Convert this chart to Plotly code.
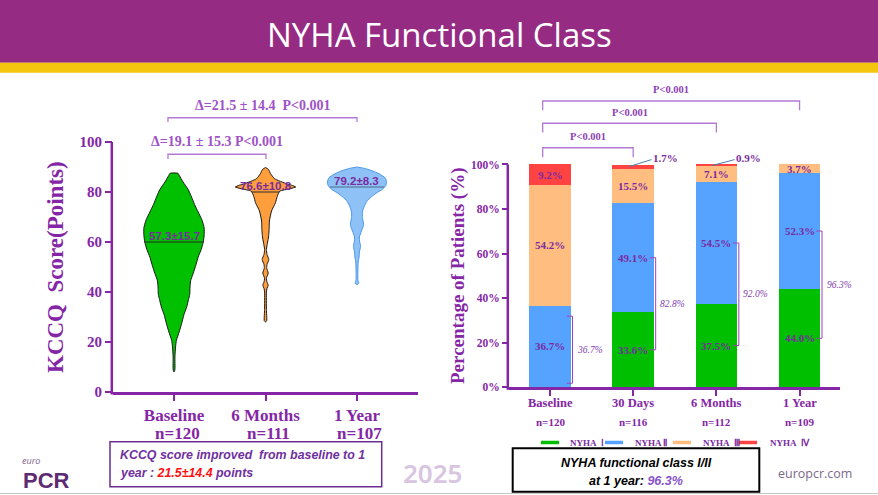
import numpy as np
import plotly.graph_objects as go

W, H = 878, 495

# ---------------- data ----------------
kccq_groups = ["Baseline", "6 Months", "1 Year"]
kccq_n = [120, 111, 107]
kccq_mean = [57.3, 76.6, 79.2]
kccq_sd = [15.7, 10.8, 8.3]
kccq_median = [60, 80, 82]
kccq_delta_6m = "Δ=19.1 ± 15.3 P<0.001"
kccq_delta_1y = "Δ=21.5 ± 14.4  P<0.001"

# violin outlines (score level, relative density)
base_scores = [8, 9, 14, 18, 20.7, 24, 27.3, 31, 34, 37, 39, 42, 44.5, 47.3, 51, 54, 57, 60, 63, 65.5,
               68.7, 72, 75, 78, 81, 84, 86.5, 87.5]
base_density = [0, .03, .03, .05, .08, .17, .25, .33, .42, .48, .52, .53, .55, .63, .73, .8, .9, .97, 1.0, 1.0,
                .93, .8, .68, .58, .47, .3, .18, .13]
m6_scores = [28, 28.5, 33, 40, 41.5, 42.7, 44, 45.5, 47.6, 49.5, 51, 53, 55, 57, 60, 62, 65, 68.4, 72.4, 75.7,
             78.3, 80.3, 81.3, 82, 82.7, 83.3, 85.3, 87.3, 89, 89.8]
m6_density = [0, .04, .03, .03, .05, .09, .05, .03, .09, .04, .05, .11, .05, .03, .07, .1, .12, .13, .2, .33,
              .39, .47, .8, 1.0, .87, .7, .3, .17, .1, 0]
y1_scores = [43, 43.5, 45, 48, 52, 54, 56, 58.3, 60, 62, 64.4, 67, 69.7, 72, 74, 76.3, 78, 79.5, 81, 82.5,
             84, 85.7, 87.3, 88.5, 89.5, 90]
y1_density = [0, .06, .03, .03, .04, .07, .08, .12, .09, .08, .15, .22, .18, .18, .23, .33, .47, .63, .83, .95,
              .98, .93, .73, .5, .23, 0]

nyha_timepoints = ["Baseline", "30 Days", "6 Months", "1 Year"]
nyha_n = [120, 116, 112, 109]
nyha_1 = [0, 33.6, 37.5, 44.0]
nyha_2 = [36.7, 49.1, 54.5, 52.3]
nyha_3 = [54.2, 15.5, 7.1, 3.7]
nyha_4 = [9.2, 1.7, 0.9, 0]
nyha_1_2 = [36.7, 82.8, 92.0, 96.3]
nyha_p = ["P<0.001", "P<0.001", "P<0.001"]
nyha_names = ["NYHA  Ⅰ", "NYHA Ⅱ", "NYHA  Ⅲ", "NYHA  Ⅳ"]

# ---------------- style ----------------
SERIF = "Liberation Serif, Times New Roman, serif"
SANS = "Liberation Sans, Arial, sans-serif"
AX = "#8526A6"
TXT = "#7A2BA0"
PTXT = "#A052C8"
BRK = "#B27AD4"

LX_DOM = [113 / W, 418 / W]; LX_RNG = [-0.667, 2.667]
LY_DOM = [1 - 392 / H, 1 - 104.5 / H]; LY_RNG = [0, 115]
RX_DOM = [509 / W, 840 / W]; RX_RNG = [-0.493, 3.486]
RY_DOM = [1 - 387.3 / H, 1 - 86.5 / H]; RY_RNG = [0, 135]


def px(x):
    return x / W


def py(y):
    return 1 - y / H


def ypap(v, dom, rng):
    return dom[0] + (v - rng[0]) / (rng[1] - rng[0]) * (dom[1] - dom[0])


fig = go.Figure()
shapes = []
ann = []

# ---------------- left: violins ----------------
profiles = [(base_scores, base_density), (m6_scores, m6_density), (y1_scores, y1_density)]
fills = ["#00C000", "#FF9E3D", "#8EC2F6"]
edges = ["#1A1A1A", "#1A1A1A", "#4A98EA"]
meds = ["#2B2B2B", "#2B2B2B", "#4D6A85"]
HALF = 0.33
for i, (s, d) in enumerate(profiles):
    s = np.array(s, float)
    d = np.array(d, float) * HALF
    xs = np.concatenate([i + d, (i - d)[::-1]])
    ys = np.concatenate([s, s[::-1]])
    fig.add_trace(go.Scatter(x=xs, y=ys, mode="lines", fill="toself", fillcolor=fills[i],
                             line=dict(color=edges[i], width=1, shape="spline", smoothing=0.5),
                             xaxis="x", yaxis="y", hoverinfo="skip", showlegend=False))
    wm = float(np.interp(kccq_median[i], s, d))
    fig.add_trace(go.Scatter(x=[i - wm, i + wm], y=[kccq_median[i]] * 2, mode="lines",
                             line=dict(color=meds[i], width=1.2), xaxis="x", yaxis="y",
                             hoverinfo="skip", showlegend=False))
    ann.append(dict(x=i, y=kccq_median[i], xref="x", yref="y", yanchor="bottom", yshift=-2,
                    text=f"{kccq_mean[i]}±{kccq_sd[i]}", showarrow=False,
                    font=dict(family=SANS, size=11.5, color=TXT, weight="bold")))
    ann.append(dict(x=i, y=py(433.5), xref="x", yref="paper", text=f"n={kccq_n[i]}", showarrow=False,
                    xshift=3, font=dict(family=SERIF, size=17, color=AX, weight="bold")))

# brackets left
for (x0, x1, yl, yt, ytxt, txt) in [(-0.066, 1.005, 95.1, 93.2, 100.3, kccq_delta_6m),
                                     (-0.066, 2.0, 109.7, 108.0, 114.8, kccq_delta_1y)]:
    shapes.append(dict(type="path", xref="x", yref="y",
                       path=f"M {x0} {yt} L {x0} {yl} L {x1} {yl} L {x1} {yt}",
                       line=dict(color=BRK, width=1.3)))
    ann.append(dict(x=(x0 + x1) / 2, y=ytxt, xref="x", yref="y", text=txt, showarrow=False,
                    font=dict(family=SERIF, size=14, color=PTXT, weight="bold")))

# left y-axis line (0..100)
shapes.append(dict(type="line", xref="paper", yref="paper", x0=LX_DOM[0] - 1.2 / W, x1=LX_DOM[0] - 1.2 / W,
                   y0=ypap(0, LY_DOM, LY_RNG) - 2.5 / H, y1=ypap(100, LY_DOM, LY_RNG),
                   line=dict(color=AX, width=2.5)))
ann.append(dict(x=px(55), y=py(267), xref="paper", yref="paper", text="KCCQ\u00a0 Score(Points)",
                textangle=-90, showarrow=False,
                font=dict(family=SERIF, size=23, color=AX, weight="bold")))

# ---------------- right: stacked bars ----------------
bar_cols = ["#00BF00", "#56A2FF", "#FFBE80", "#FF4343"]
series = [nyha_1, nyha_2, nyha_3, nyha_4]
xk = list(range(len(nyha_timepoints)))
for vals, col, nm in zip(series, bar_cols, nyha_names):
    fig.add_trace(go.Bar(x=xk, y=vals, width=0.5, name=nm, marker=dict(color=col, line=dict(width=0)),
                         xaxis="x2", yaxis="y2", hoverinfo="skip", showlegend=False))

for k in xk:
    bottom = 0
    for vals in series:
        v = vals[k]
        if v >= 2:
            ann.append(dict(x=k, y=bottom + v / 2, xref="x2", yref="y2", text=f"{v:.1f}%", showarrow=False,
                            font=dict(family=SERIF, size=11, color=TXT, weight="bold")))
        elif v > 0:
            shapes.append(dict(type="line", xref="x2", yref="y2", x0=k - 0.05, y0=bottom + v / 2,
                               x1=k + 0.22, y1=102.2, line=dict(color="#4A7FB0", width=1)))
            ann.append(dict(x=k + 0.21, y=102.8, xref="x2", yref="y2", xanchor="left", text=f"{v:.1f}%",
                            showarrow=False, font=dict(family=SERIF, size=11, color=TXT, weight="bold")))
        bottom += v
    # I/II bracket
    if nyha_1[k] > 0:
        lo = nyha_1[k] / 2
        hi = nyha_1[k] + nyha_2[k] / 2
    else:
        lo = 0.05 * nyha_2[k]
        hi = 0.87 * nyha_2[k]
    shapes.append(dict(type="path", xref="x2", yref="y2",
                       path=f"M {k + 0.2} {lo} L {k + 0.27} {lo} L {k + 0.27} {hi} L {k + 0.2} {hi}",
                       line=dict(color="#A040B8", width=1)))
    ann.append(dict(x=k + 0.3, y=(lo + hi) / 2, xref="x2", yref="y2", xanchor="left",
                    text=f"{nyha_1_2[k]:.1f}%", showarrow=False,
                    font=dict(family=SERIF, size=9.5, color="#8040B0", style="italic")))
    # category label and n
    ann.append(dict(x=k, y=py(403.3), xref="x2", yref="paper", text=nyha_timepoints[k], showarrow=False,
                    font=dict(family=SERIF, size=12.5, color=AX, weight="bold")))
    ann.append(dict(x=k, y=py(421.7), xref="x2", yref="paper", text=f"n={nyha_n[k]}", showarrow=False,
                    font=dict(family=SERIF, size=11, color=AX, weight="bold")))

# P brackets right
for j, p in enumerate(nyha_p):
    x0, x1 = -0.088, j + 1.0
    yl = [107.5, 118.5, 128.5][j]
    yt = yl - 4.2
    shapes.append(dict(type="path", xref="x2", yref="y2",
                       path=f"M {x0} {yt} L {x0} {yl} L {x1} {yl} L {x1} {yt}",
                       line=dict(color=BRK, width=1.3)))
    ann.append(dict(x=(x0 + x1) / 2, y=yl + 5, xref="x2", yref="y2", text=p, showarrow=False,
                    font=dict(family=SERIF, size=10.5, color="#8E3FB5", weight="bold")))

# right y-axis line
shapes.append(dict(type="line", xref="paper", yref="paper", x0=RX_DOM[0] - 1.2 / W, x1=RX_DOM[0] - 1.2 / W,
                   y0=ypap(0, RY_DOM, RY_RNG) - 2.5 / H, y1=ypap(100, RY_DOM, RY_RNG),
                   line=dict(color=AX, width=2.5)))
ann.append(dict(x=px(458), y=py(276), xref="paper", yref="paper", text="Percentage of Patients (%)",
                textangle=-90, showarrow=False,
                font=dict(family=SERIF, size=19, color=AX, weight="bold")))

# legend (manual, line markers)
leg_x = [541, 605, 673, 739]
leg_t = [568, 633, 701, 768]
for lx, tx, col, nm in zip(leg_x, leg_t, bar_cols, nyha_names):
    shapes.append(dict(type="line", xref="paper", yref="paper", x0=px(lx), x1=px(lx + 18),
                       y0=py(442.5), y1=py(442.5), line=dict(color=col, width=3.5)))
    ann.append(dict(x=px(tx), y=py(442.5), xref="paper", yref="paper", xanchor="left", text=nm,
                    showarrow=False, font=dict(family=SERIF, size=9, color=TXT, weight="bold")))

# ---------------- slide decorations ----------------
shapes.append(dict(type="rect", xref="paper", yref="paper", x0=0, x1=1, y0=py(62.7), y1=1,
                   fillcolor="#952B83", line=dict(width=0), layer="below"))
shapes.append(dict(type="rect", xref="paper", yref="paper", x0=0, x1=1, y0=py(72.7), y1=py(62.7),
                   fillcolor="#F5C60F", line=dict(width=0), layer="below"))
ann.append(dict(x=0.5, y=py(34), xref="paper", yref="paper", text="NYHA Functional Class", showarrow=False,
                font=dict(family="Open Sans", size=33, color="white")))
shapes.append(dict(type="line", xref="paper", yref="paper", x0=0, x1=1, y0=py(493.5), y1=py(493.5),
                   line=dict(color="#C8C8C8", width=1)))

# left info box
shapes.append(dict(type="rect", xref="paper", yref="paper", x0=px(110), x1=px(381.7), y0=py(486.7),
                   y1=py(441.7), line=dict(color="#6B2D8F", width=1.5)))
ann.append(dict(x=px(118), y=py(455), xref="paper", yref="paper", xanchor="left",
                text="KCCQ score improved  from baseline to 1", showarrow=False,
                font=dict(family=SANS, size=12.4, color="#7030A0", weight="bold", style="italic")))
ann.append(dict(x=px(118), y=py(473.3), xref="paper", yref="paper", xanchor="left",
                text="year : <span style='color:#FF1010'>21.5±14.4</span> points", showarrow=False,
                font=dict(family=SANS, size=12.4, color="#7030A0", weight="bold", style="italic")))

# right info box
shapes.append(dict(type="rect", xref="paper", yref="paper", x0=px(512.7), x1=px(759.3), y0=py(491.7),
                   y1=py(448.3), line=dict(color="black", width=2)))
ann.append(dict(x=px(636), y=py(463.3), xref="paper", yref="paper",
                text="NYHA functional class I/II", showarrow=False,
                font=dict(family=SANS, size=12.5, color="black", weight="bold", style="italic")))
ann.append(dict(x=px(636), y=py(480.5), xref="paper", yref="paper",
                text="at 1 year: <span style='color:#8A55C8'>96.3%</span>", showarrow=False,
                font=dict(family=SANS, size=12.5, color="black", weight="bold", style="italic")))

ann.append(dict(x=px(815), y=py(473.5), xref="paper", yref="paper", text="europcr.com", showarrow=False,
                font=dict(family="Open Sans", size=12.5, color="#7A6A88")))
ann.append(dict(x=px(433), y=py(472.5), xref="paper", yref="paper", text="2025", showarrow=False,
                font=dict(family="Noto Sans", size=26, color="#D8C5E2", weight=600)))
ann.append(dict(x=px(20), y=py(460), xref="paper", yref="paper", xanchor="left", text="euro",
                showarrow=False, font=dict(family="Open Sans", size=9, color="#7C5E8C", style="italic")))
ann.append(dict(x=px(21), y=py(480), xref="paper", yref="paper", xanchor="left", text="PCR",
                showarrow=False, font=dict(family=SANS, size=22, color="#5E2B73", weight="bold")))

for a in ann:
    a.setdefault("xanchor", "center")
    a.setdefault("yanchor", "middle")

# ---------------- axes ----------------
fig.update_layout(
    width=W, height=H, autosize=False, margin=dict(l=0, r=0, t=0, b=0, pad=0),
    paper_bgcolor="white", plot_bgcolor="rgba(0,0,0,0)",
    barmode="stack", bargap=0.5, showlegend=False,
    xaxis=dict(domain=LX_DOM, range=LX_RNG, tickvals=[0, 1, 2], ticktext=kccq_groups, automargin=False,
               showline=True, linecolor=AX, linewidth=2.5, ticks="outside", ticklen=6, tickwidth=2,
               tickcolor=AX, showgrid=False, zeroline=False,
               tickfont=dict(family=SERIF, size=17, color=AX, weight="bold")),
    yaxis=dict(domain=LY_DOM, range=LY_RNG, tickvals=[0, 20, 40, 60, 80, 100], automargin=False,
               showline=False, ticks="outside", ticklen=7, tickwidth=2, tickcolor=AX,
               showgrid=False, zeroline=False,
               tickfont=dict(family=SERIF, size=15, color=AX, weight="bold")),
    xaxis2=dict(domain=RX_DOM, range=RX_RNG, tickvals=xk, showticklabels=False, anchor="y2",
                automargin=False,
                showline=True, linecolor=AX, linewidth=2.5, ticks="outside", ticklen=6, tickwidth=2,
                tickcolor=AX, showgrid=False, zeroline=False),
    yaxis2=dict(domain=RY_DOM, range=RY_RNG, tickvals=[0, 20, 40, 60, 80, 100], automargin=False,
                ticktext=[f"{v}%" for v in [0, 20, 40, 60, 80, 100]], anchor="x2",
                showline=False, ticks="outside", ticklen=6, tickwidth=2, tickcolor=AX,
                showgrid=False, zeroline=False,
                tickfont=dict(family=SERIF, size=11.5, color=AX, weight="bold")),
    shapes=shapes, annotations=ann,
)

fig.write_html("out.html", config={"displayModeBar": False, "responsive": False},
               post_script="document.body.style.margin='0';document.body.style.overflow='hidden';")
